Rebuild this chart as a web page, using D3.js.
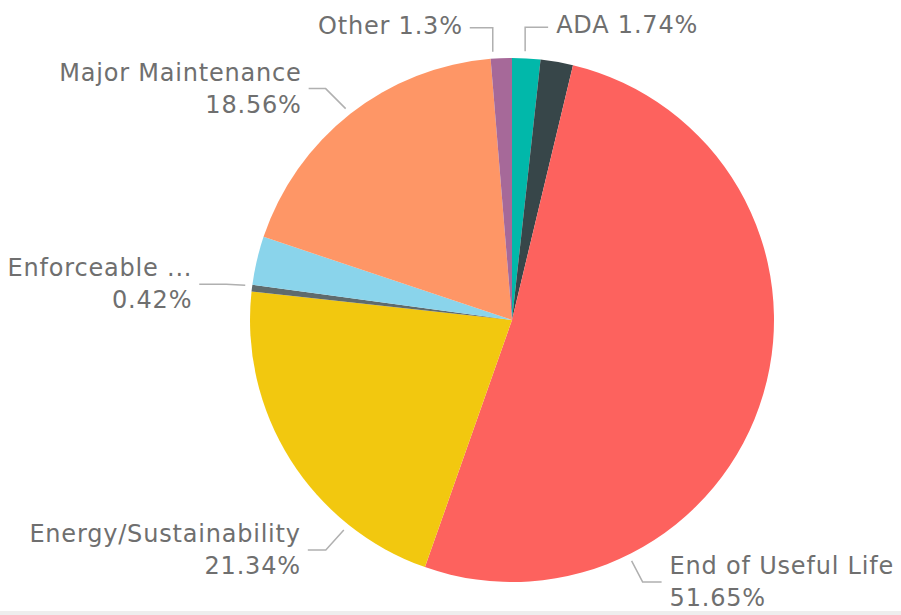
<!DOCTYPE html>
<html>
<head>
<meta charset="utf-8">
<script src="https://cdn.jsdelivr.net/npm/d3@7"></script>
<style>
  html, body { margin: 0; padding: 0; background: #ffffff; }
  svg { display: block; }
  .lbl { font-family: "DejaVu Sans", sans-serif; font-size: 24px; letter-spacing: 0.8px; fill: #6f6f6f; }
</style>
</head>
<body>
<svg id="chart" width="901" height="615"></svg>
<script>
// Project spending share by category (percent of total)
const categories = ["ADA", "Code Compliance", "End of Useful Life", "Energy/Sustainability",
                    "Enforceable Agreements", "Health & Safety", "Major Maintenance", "Other"];
const values = [1.74, 2.00, 51.65, 21.34, 0.42, 2.99, 18.56, 1.30];
// Text shown for each slice label (null = slice too thin to label)
const labelNames = ["ADA", null, "End of Useful Life", "Energy/Sustainability",
                    "Enforceable ...", null, "Major Maintenance", "Other"];
const colors = ["#01B8AA", "#374649", "#FD625E", "#F2C80F", "#5F6B6D", "#8AD4EB", "#FE9666", "#A66999"];

// Label placement: anchor angle on the rim (degrees clockwise from 12 o'clock),
// elbow offset from that anchor, horizontal run, and single/two-line layout.
const labelLayout = {
  "ADA":                    { angle: 2.8,   elbow: [0, -24],  run: 23,  inline: true },
  "Other":                  { angle: 355.9, elbow: [0, -24],  run: -23, inline: true },
  "Major Maintenance":      { angle: 321.8, elbow: [-20, -20], run: -17, inline: false },
  "Enforceable Agreements": { angle: 277.4, elbow: [-19, -1], run: -27, inline: false },
  "Energy/Sustainability":  { angle: 218.7, elbow: [-18, 20], run: -18, inline: false },
  "End of Useful Life":     { angle: 153.6, elbow: [11, 21],  run: 19,  inline: false }
};

const W = 901, H = 615;
const cx = 512, cy = 320, radius = 262;

const svg = d3.select("#chart");

// thin grey strip along the bottom edge of the visual
svg.append("rect").attr("x", 0).attr("y", 611).attr("width", W).attr("height", H - 611).attr("fill", "#eeeeee");

const data = categories.map((c, i) => ({ cat: c, value: values[i], name: labelNames[i], color: colors[i] }));

const pie = d3.pie().value(d => d.value).sort(null);
const arc = d3.arc().innerRadius(0).outerRadius(radius);
const arcs = pie(data);

const g = svg.append("g").attr("transform", `translate(${cx},${cy})`);

g.selectAll("path.slice")
  .data(arcs)
  .join("path")
  .attr("class", "slice")
  .attr("d", arc)
  .attr("fill", d => d.data.color);

// labels with leader lines
const rimR = radius + 7;
const pct = v => String(v) + "%";

arcs.filter(a => a.data.name).forEach(a => {
  const lay = labelLayout[a.data.cat];
  const t = lay.angle * Math.PI / 180;
  const ax = rimR * Math.sin(t), ay = -rimR * Math.cos(t);
  const ex = ax + lay.elbow[0], ey = ay + lay.elbow[1];
  const hx = ex + lay.run;
  g.append("polyline")
    .attr("points", [[ax, ay], [ex, ey], [hx, ey]].map(p => p.join(",")).join(" "))
    .attr("fill", "none")
    .attr("stroke", "#b0b0b0")
    .attr("stroke-width", 1.5);

  const right = lay.run < 0;
  const tx = hx + (right ? -7 : 8);
  const anchor = right ? "end" : "start";
  if (lay.inline) {
    g.append("text").attr("class", "lbl")
      .attr("x", tx).attr("y", ey + 6)
      .attr("text-anchor", anchor)
      .text(a.data.name + " " + pct(a.data.value));
  } else {
    g.append("text").attr("class", "lbl")
      .attr("x", tx).attr("y", ey - 8)
      .attr("text-anchor", anchor)
      .text(a.data.name);
    g.append("text").attr("class", "lbl")
      .attr("x", tx).attr("y", ey + 24)
      .attr("text-anchor", anchor)
      .text(pct(a.data.value));
  }
});
</script>
</body>
</html>
